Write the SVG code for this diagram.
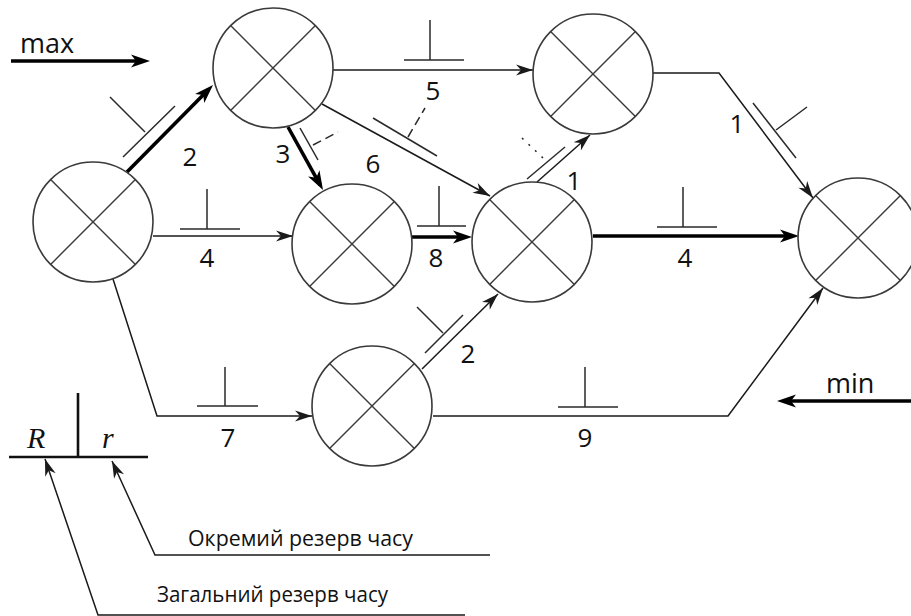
<svg xmlns="http://www.w3.org/2000/svg" xmlns:xlink="http://www.w3.org/1999/xlink" width="911" height="616" viewBox="0 0 911 616">
  <style>
    .edge { fill: none; stroke: #1a1a1a; stroke-width: 1.5; marker-end: url(#arrow); }
    .edge.crit { stroke: #000; stroke-width: 3.6; marker-end: url(#arrowBold); }
    .tick { fill: none; stroke: #2a2a2a; stroke-width: 1.5; }
    .tick.dash { stroke-dasharray: 9 5; }
    .tick.dot { stroke-dasharray: 2 7; }
    .lbl { font-family: "Open Sans", "DejaVu Sans", sans-serif; font-size: 26px; fill: #111; text-anchor: middle; }
    .dir { font-family: "Open Sans", "DejaVu Sans", sans-serif; font-size: 27px; fill: #111; }
    .legend-bar { fill: none; stroke: #111; stroke-width: 2.6; }
    .legend-sym { font-family: "Liberation Serif", serif; font-style: italic; font-size: 30px; fill: #111; }
    .legend-txt { font-family: "Open Sans", "DejaVu Sans", sans-serif; font-size: 21px; fill: #111; }
  </style>
  <defs>
    <marker id="arrow" markerUnits="userSpaceOnUse" orient="auto" overflow="visible" refX="0" refY="0">
      <path d="M0,0 L-17,-5.5 L-12,0 L-17,5.5 Z" fill="#1a1a1a"/>
    </marker>
    <marker id="arrowBold" markerUnits="userSpaceOnUse" orient="auto" overflow="visible" refX="-6" refY="0">
      <path d="M0,0 L-19,-6.5 L-14,0 L-19,6.5 Z" fill="#000"/>
    </marker>
    <!-- event circle with its four sectors -->
    <g id="nodeShape">
      <circle r="60" fill="#fff" stroke="#3a3a3a" stroke-width="1.6"/>
      <path d="M-42.4,-42.4 L42.4,42.4 M42.4,-42.4 L-42.4,42.4" fill="none" stroke="#3a3a3a" stroke-width="1.4"/>
    </g>
  </defs>

  <rect width="911" height="616" fill="#fff"/>

  <!-- connectors -->
  <g id="connectors">
    <!-- direction hints -->
    <path class="edge crit" d="M11,61 L144,61"/>
    <path class="edge crit" d="M911,401 L783,401"/>

    <!-- 1 -> 2 (critical, 2) -->
    <path class="edge crit" d="M127,172 L208.8,89.3"/>
    <path class="tick" d="M123,157 L175,106 M145,132 L110,97"/>
    <!-- 1 -> 4 (4) -->
    <path class="edge" d="M153,236 L293,236"/>
    <path class="tick" d="M180,229 L240,229 M207,229 L207,189"/>
    <!-- 1 -> 7 (7) -->
    <path class="edge" d="M113,279 L157,416 L312,416"/>
    <path class="tick" d="M197,406 L258,406 M225,406 L225,367"/>
    <!-- 2 -> 3 (5) -->
    <path class="edge" d="M333,70 L533,70"/>
    <path class="tick" d="M404,60 L464,60 M430,60 L430,20"/>
    <!-- 2 -> 4 (critical, 3) -->
    <path class="edge crit" d="M288,127 L320.1,184.8"/>
    <path class="tick" d="M300,128 L318,160"/>
    <path class="tick dash" d="M313,145 L338,132"/>
    <!-- 2 -> 5 (6) -->
    <path class="edge" d="M322,104 L490,196"/>
    <path class="tick" d="M373,118 L437,156"/>
    <path class="tick dash" d="M408,137 L425,108"/>
    <!-- 4 -> 5 (critical, 8) -->
    <path class="edge crit" d="M412,237 L466,237"/>
    <path class="tick" d="M417,226 L466,226 M439,226 L439,186"/>
    <!-- 5 -> 3 (1) -->
    <path class="edge" d="M537,182 L590,135"/>
    <path class="tick" d="M527,179 L565,147"/>
    <path class="tick dot" d="M543,158 L522,138"/>
    <!-- 5 -> 6 (critical, 4) -->
    <path class="edge crit" d="M593,236 L793,236"/>
    <path class="tick" d="M657,227 L717,227 M683,227 L683,187"/>
    <!-- 3 -> 6 (1) -->
    <path class="edge" d="M653,73 L719,73 L813,198"/>
    <path class="tick" d="M753,103 L796,158 M776,130 L807,107"/>
    <!-- 7 -> 5 (2) -->
    <path class="edge" d="M422,369 L498,294"/>
    <path class="tick" d="M425,353 L463,315 M443,333 L417,307"/>
    <!-- 7 -> 6 (9) -->
    <path class="edge" d="M433,416 L728,416 L823,288"/>
    <path class="tick" d="M558,407 L618,407 M585,407 L585,367"/>

    <!-- legend pointers -->
    <path class="edge" d="M490,555 L155,555 L112,461"/>
    <path class="edge" d="M465,615 L98,615 L45,459"/>
  </g>

  <!-- nodes -->
  <g id="node1" transform="translate(93,222)"><use href="#nodeShape" xlink:href="#nodeShape"/></g>
  <g id="node2" transform="translate(273,68)"><use href="#nodeShape" xlink:href="#nodeShape"/></g>
  <g id="node3" transform="translate(593,74)"><use href="#nodeShape" xlink:href="#nodeShape"/></g>
  <g id="node4" transform="translate(352,244)"><use href="#nodeShape" xlink:href="#nodeShape"/></g>
  <g id="node5" transform="translate(532,242)"><use href="#nodeShape" xlink:href="#nodeShape"/></g>
  <g id="node6" transform="translate(858,238)"><use href="#nodeShape" xlink:href="#nodeShape"/></g>
  <g id="node7" transform="translate(372,406)"><use href="#nodeShape" xlink:href="#nodeShape"/></g>

  <!-- durations -->
  <g id="labels">
    <text class="lbl" x="190" y="166">2</text>
    <text class="lbl" x="283" y="163">3</text>
    <text class="lbl" x="433" y="100">5</text>
    <text class="lbl" x="373" y="173">6</text>
    <text class="lbl" x="207" y="267">4</text>
    <text class="lbl" x="436" y="267">8</text>
    <text class="lbl" x="574" y="190">1</text>
    <text class="lbl" x="685" y="267">4</text>
    <text class="lbl" x="737" y="133">1</text>
    <text class="lbl" x="468" y="363">2</text>
    <text class="lbl" x="585" y="447">9</text>
    <text class="lbl" x="228" y="447">7</text>
    <text class="dir" x="20" y="53">max</text>
    <text class="dir" x="826" y="393">min</text>
  </g>

  <!-- legend -->
  <g id="legend">
    <path class="legend-bar" d="M9,457 L148,457 M78,457 L78,393"/>
    <text class="legend-sym" x="27" y="448">R</text>
    <text class="legend-sym" x="102" y="448">r</text>
    <text class="legend-txt" x="188" y="546" textLength="225" lengthAdjust="spacingAndGlyphs">Окремий резерв часу</text>
    <text class="legend-txt" x="157" y="602" textLength="231" lengthAdjust="spacingAndGlyphs">Загальний резерв часу</text>
  </g>
</svg>
